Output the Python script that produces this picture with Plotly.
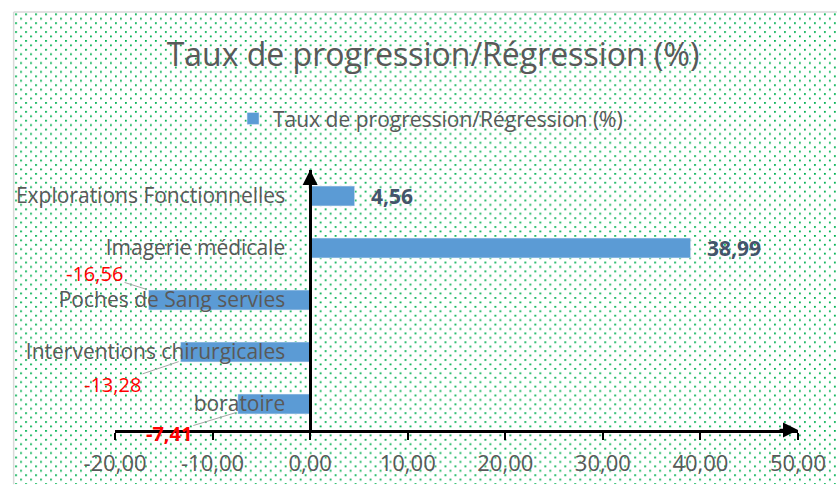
import plotly.graph_objects as go
import urllib.parse

# ---- data ----
categories = ["Explorations Fonctionnelles", "Imagerie médicale", "Poches de Sang servies",
              "Interventions chirurgicales", "Laboratoire"]
category_labels = ["Explorations Fonctionnelles", "Imagerie médicale", "Poches de Sang servies",
                   "Interventions chirurgicales", "boratoire"]
values = [4.56, 38.99, -16.56, -13.28, -7.41]
x_tick_vals = [-20, -10, 0, 10, 20, 30, 40, 50]
x_tick_text = ["-20,00", "-10,00", "0,00", "10,00", "20,00", "30,00", "40,00", "50,00"]
series_name = "Taux de progression/Régression (%)"
title_text = "Taux de progression/Régression (%)"

# ---- layout geometry ----
W, H = 838, 489
ML, MR, MT, MB = 115, 39, 170, 55
PW, PH = W - ML - MR, H - MT - MB
XMIN, XMAX = -20, 50


def px_to_paper_x(px):
    return (px - ML) / PW


def px_to_paper_y(py):
    return (H - MB - py) / PH


GREY = "#595959"
FONT = "Open Sans"

# dotted green pattern background
svg = ("<svg xmlns='http://www.w3.org/2000/svg' width='824' height='479'>"
       "<defs><pattern id='p' width='10' height='9' patternUnits='userSpaceOnUse'>"
       "<rect x='1' y='1' width='1.8' height='1.8' fill='#00B050'/>"
       "<rect x='6' y='5.5' width='1.8' height='1.8' fill='#00B050'/>"
       "</pattern></defs><rect width='100%' height='100%' fill='url(#p)'/></svg>")
svg_uri = "data:image/svg+xml;charset=utf-8," + urllib.parse.quote(svg)

fig = go.Figure()
fig.add_trace(go.Bar(
    x=values, y=categories, orientation="h", name=series_name,
    marker=dict(color="#5B9BD5"), showlegend=True,
))

annotations = []
# label styles (offsets in pixels relative to bar end)
label_style = {
    0: dict(kind="pos", bold=True),
    1: dict(kind="pos", bold=True),
    2: dict(kind="neg", bold=False, ax=-54, ay=-17, yshift=10),
    3: dict(kind="neg", bold=False, ax=-68, ay=23, yshift=-9),
    4: dict(kind="neg", bold=True, ax=-69, ay=21, yshift=-8),
}
for i, (cat, v) in enumerate(zip(categories, values)):
    txt = f"{v:.2f}".replace(".", ",")
    st = label_style[i]
    if st["bold"]:
        txt = f"<b>{txt}</b>"
    if st["kind"] == "pos":
        annotations.append(dict(x=v, y=cat, xref="x", yref="y", text=txt, showarrow=False,
                                xanchor="left", xshift=14,
                                font=dict(family=FONT, size=21, color="#44546A")))
    else:
        annotations.append(dict(x=v, y=cat, xref="x", yref="y", text=txt, showarrow=True,
                                arrowhead=0, arrowwidth=1, arrowcolor="#A6A6A6",
                                ax=st["ax"], ay=st["ay"], yshift=st["yshift"], standoff=2,
                                font=dict(family=FONT, size=20, color="#FF0000")))

# axis arrowheads
annotations.append(dict(x=XMAX, y=0, xref="x", yref="paper", text="", showarrow=True,
                        arrowhead=2, arrowsize=1.2, arrowwidth=2.5, arrowcolor="black",
                        ax=-20, ay=0))
annotations.append(dict(x=0, y=1, xref="x", yref="paper", text="", showarrow=True,
                        arrowhead=2, arrowsize=1.2, arrowwidth=2.5, arrowcolor="black",
                        ax=0, ay=20))

border = dict(color="#D9D9D9", width=1.5)

fig.update_layout(
    width=W, height=H,
    margin=dict(l=ML, r=MR, t=MT, b=MB, pad=0),
    paper_bgcolor="white", plot_bgcolor="rgba(0,0,0,0)",
    separators=", ",
    bargap=0.62,
    title=dict(text=title_text, x=433 / W, xanchor="center", y=1 - 55 / H, yanchor="middle",
               font=dict(family=FONT, size=32, color=GREY)),
    legend=dict(orientation="h", x=px_to_paper_x(431), xanchor="center",
                y=px_to_paper_y(118), yanchor="middle",
                font=dict(family=FONT, size=21, color=GREY), bgcolor="rgba(0,0,0,0)"),
    xaxis=dict(range=[XMIN, XMAX], tickvals=x_tick_vals, ticktext=x_tick_text,
               showgrid=False, zeroline=False, showline=True, linecolor="black", linewidth=2.5,
               ticks="outside", ticklen=7, tickwidth=1.5, tickcolor="black",
               ticklabelstandoff=5,
               tickfont=dict(family=FONT, size=22, color=GREY)),
    yaxis=dict(type="category", autorange="reversed", anchor="free",
               position=(0 - XMIN) / (XMAX - XMIN),
               tickvals=categories, ticktext=category_labels,
               showgrid=False, zeroline=False, showline=True, linecolor="black", linewidth=2.5,
               ticks="", ticklabelstandoff=20,
               tickfont=dict(family=FONT, size=21, color=GREY)),
    annotations=annotations,
    images=[dict(source=svg_uri, xref="paper", yref="paper",
                 x=px_to_paper_x(14), y=px_to_paper_y(10),
                 sizex=(W - 14) / PW, sizey=(H - 10) / PH,
                 xanchor="left", yanchor="top", sizing="stretch", layer="below")],
    shapes=[
        dict(type="line", xref="paper", yref="paper",
             x0=px_to_paper_x(13.5), x1=px_to_paper_x(13.5),
             y0=px_to_paper_y(H), y1=px_to_paper_y(9.5), line=border, layer="below"),
        dict(type="line", xref="paper", yref="paper",
             x0=px_to_paper_x(13.5), x1=px_to_paper_x(W),
             y0=px_to_paper_y(9.5), y1=px_to_paper_y(9.5), line=border, layer="below"),
    ],
)

fig.write_html("out.html", config={"displayModeBar": False},
               post_script="document.body.style.margin='0';")
